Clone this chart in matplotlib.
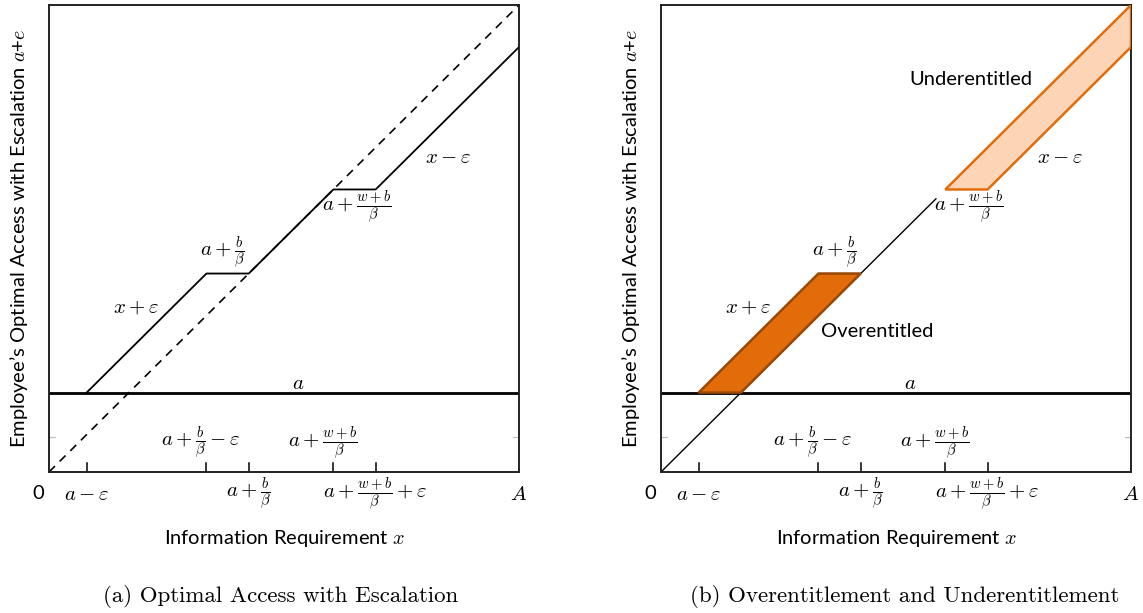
import numpy as np
import matplotlib
matplotlib.use("Agg")
import matplotlib.pyplot as plt
from matplotlib.patches import Polygon

plt.rcParams['mathtext.fontset'] = 'cm'
plt.rcParams['font.family'] = ['Lato', 'DejaVu Sans']

# Parametry modelu (skala 0..A)
A = 10.0
a = 1.7
eps = 0.9
lvl_b = 4.25     # a + b/beta
lvl_wb = 6.05    # a + (w+b)/beta

# Łamana optymalnego dostępu z eskalacją
access_x = [a - eps, lvl_b - eps, lvl_b, lvl_wb, lvl_wb + eps, A]
access_y = [a, lvl_b, lvl_b, lvl_wb, lvl_wb, A - eps]

# Obszary nad/pod uprawnień
over_x = [a - eps, lvl_b - eps, lvl_b, a]
over_y = [a, lvl_b, lvl_b, a]
under_x = [lvl_wb, lvl_wb + eps, A, A]
under_y = [lvl_wb, lvl_wb, A - eps, A]

# Znaczniki osi x
tick_pos = [a - eps, lvl_b - eps, lvl_b, lvl_wb, lvl_wb + eps]
low_labels = [r'$a-\varepsilon$', r'$a+\frac{b}{\beta}$', r'$a+\frac{w+b}{\beta}+\varepsilon$']
low_pos = [a - eps, lvl_b, lvl_wb + eps]
up_labels = [r'$a+\frac{b}{\beta}-\varepsilon$', r'$a+\frac{w+b}{\beta}$']
up_pos = [lvl_b - eps, lvl_wb]

MFS = 15  # rozmiar tekstu matematycznego

fig = plt.figure(figsize=(11.43, 6.13), dpi=100)
ax1 = fig.add_axes([49/1143, 141/613, 470/1143, 467/613])
ax2 = fig.add_axes([661/1143, 141/613, 470/1143, 467/613])


def setup(ax):
    ax.set_xlim(0, A)
    ax.set_ylim(0, A)
    for s in ax.spines.values():
        s.set_linewidth(1.4)
        s.set_color('#222222')
    ax.set_xticks([])
    ax.set_yticks([])
    # znaczniki wewnątrz osi
    for t in tick_pos:
        ax.plot([t, t], [0, 0.2], color='black', lw=1.1, clip_on=False)
    ax.plot([0, 0.12], [0.75, 0.75], color='#bbbbbb', lw=0.8)
    ax.plot([A - 0.12, A], [0.75, 0.75], color='#bbbbbb', lw=0.8)
    ax.axhline(a, color='black', lw=2.0)
    for lab, p in zip(low_labels, low_pos):
        ax.text(p, -0.47, lab, ha='center', va='center', fontsize=MFS)
    for lab, p in zip(up_labels, up_pos):
        ax.text(p - 0.22 if p == lvl_wb else p - 0.12, 0.62, lab, ha='center', va='center', fontsize=MFS)
    ax.text(-0.1, -0.47, '0', ha='right', va='center', fontsize=14.5)
    ax.text(A, -0.47, r'$A$', ha='center', va='center', fontsize=MFS)
    ax.text(a + 3.6, a + 0.2, r'$a$', ha='center', va='center', fontsize=MFS)
    ax.text(lvl_b - 0.55, lvl_b + 0.45, r'$a+\frac{b}{\beta}$', ha='center', va='center', fontsize=MFS)
    ax.text(lvl_wb + 0.5, lvl_wb - 0.38, r'$a+\frac{w+b}{\beta}$', ha='center', va='center', fontsize=MFS)
    ax.text(1.85, 3.55, r'$x+\varepsilon$', ha='center', va='center', fontsize=MFS)
    ax.text(8.5, 6.75, r'$x-\varepsilon$', ha='center', va='center', fontsize=MFS)
    ax.set_xlabel(r'Information Requirement $x$', fontsize=14.5, labelpad=40)
    ax.set_ylabel(r'Employee’s Optimal Access with Escalation $a$+$e$', fontsize=14.5, labelpad=14)


# (a)
setup(ax1)
ax1.plot([0, A], [0, A], color='black', lw=1.2, ls=(0, (5, 4)))
ax1.plot(access_x, access_y, color='black', lw=1.3)

# (b)
setup(ax2)
ax2.plot([0, 5.85], [0, 5.85], color='black', lw=1.0)
ax2.add_patch(Polygon(list(zip(over_x, over_y)), closed=True,
                      facecolor='#E36C0A', edgecolor='#984807', lw=1.8, zorder=3))
ax2.add_patch(Polygon(list(zip(under_x, under_y)), closed=True,
                      facecolor='#FBD5B5', edgecolor='#E36C0A', lw=1.8, zorder=3))
ax2.text(6.6, 8.4, 'Underentitled', ha='center', va='center', fontsize=14.5)
ax2.text(4.6, 3.0, 'Overentitled', ha='center', va='center', fontsize=14.5)

fig.text(281/1143, 1 - 597/613, '(a) Optimal Access with Escalation',
         ha='center', va='center', fontsize=16.5, family='cmr10')
fig.text(905/1143, 1 - 597/613, '(b) Overentitlement and Underentitlement',
         ha='center', va='center', fontsize=16.5, family='cmr10')

fig.savefig('out.png', dpi=100)
